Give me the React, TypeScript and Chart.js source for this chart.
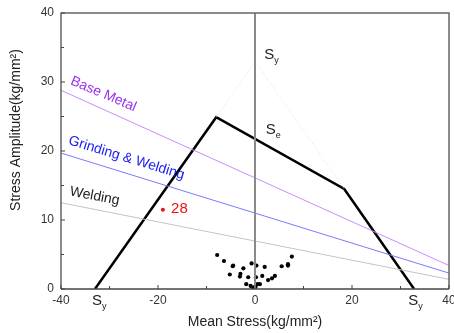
import React, { useEffect, useRef } from "react";
import { Chart, registerables } from "chart.js";

Chart.register(...registerables);

const xTicks = [-40, -20, 0, 20, 40];
const yTicks = [0, 10, 20, 30, 40];

// Goodman / yield envelope (thick black)
const envelopeX = [-33, -8, 18.4, 32.8];
const envelopeY = [0, 24.9, 14.5, 0];

// Yield triangle (dotted)
const yieldX = [-8, 0, 18.4];
const yieldY = [24.9, 33, 14.5];

// Fatigue lines
const baseMetalX = [-40, 40];
const baseMetalY = [28.8, 3.4];
const grindingX = [-40, 40];
const grindingY = [19.7, 2.3];
const weldingX = [-40, 40];
const weldingY = [12.5, 1.4];

// Measured points
const pointsX = [-7.8, -6.4, -4.5, -4.6, -2.4, -0.7, 0.3, 2.0, 5.5, 6.8, 6.8, 7.6, -5.2, -3.1, -3.0, -1.4, 0.2, 1.5, 2.7, 3.5, 4.1, -1.8, -0.9, -0.2, 0.5, 1.0, -0.4, 0.1];
const pointsY = [4.93, 4.06, 3.4, 3.3, 3.0, 3.7, 3.4, 3.2, 3.3, 3.4, 3.6, 4.7, 2.1, 1.8, 2.2, 1.7, 1.7, 1.9, 1.3, 1.55, 1.9, 0.7, 0.45, 0.25, 0.7, 0.7, 0.05, 0.3];

const redX = [-19];
const redY = [11.5];

const zeroX = [0, 0];
const zeroY = [0, 40];

const zip = (xs: number[], ys: number[]) => xs.map((x, i) => ({ x, y: ys[i] }));

const FONT = "'Liberation Sans', Arial, sans-serif";

const decorPlugin = {
  id: "decor",
  afterDraw(chart: any) {
    const { ctx, chartArea: a, scales } = chart;
    const xs = scales.x;
    const ys = scales.y;
    ctx.save();
    // frame
    ctx.strokeStyle = "#666";
    ctx.lineWidth = 1.5;
    ctx.beginPath();
    ctx.moveTo(a.left, a.bottom);
    ctx.lineTo(a.left, a.top);
    ctx.lineTo(a.right, a.top);
    ctx.lineTo(a.right, a.bottom);
    ctx.stroke();
    ctx.strokeStyle = "#444";
    ctx.beginPath();
    ctx.moveTo(a.left, a.bottom);
    ctx.lineTo(a.right, a.bottom);
    ctx.stroke();
    // ticks (inward)
    ctx.lineWidth = 1;
    ctx.strokeStyle = "#444";
    for (let v = -40; v <= 40; v += 10) {
      const px = xs.getPixelForValue(v);
      const len = v % 20 === 0 ? 4 : 3;
      ctx.beginPath();
      ctx.moveTo(px, a.bottom);
      ctx.lineTo(px, a.bottom - len);
      ctx.stroke();
    }
    for (let v = 0; v <= 40; v += 5) {
      const py = ys.getPixelForValue(v);
      const len = v % 10 === 0 ? 4 : 3;
      ctx.beginPath();
      ctx.moveTo(a.left, py);
      ctx.lineTo(a.left + len, py);
      ctx.stroke();
    }

    // axis titles
    ctx.fillStyle = "#222";
    ctx.font = `14px ${FONT}`;
    ctx.textAlign = "center";
    ctx.textBaseline = "middle";
    ctx.fillText("Mean Stress(kg/mm²)", (a.left + a.right) / 2, 322);
    ctx.save();
    ctx.translate(16, 130);
    ctx.rotate(-Math.PI / 2);
    ctx.fillText("Stress Amplitude(kg/mm²)", 0, 0);
    ctx.restore();

    // S labels with subscript
    const sLabel = (x: number, y: number, sub: string) => {
      ctx.textAlign = "left";
      ctx.textBaseline = "alphabetic";
      ctx.fillStyle = "#222";
      ctx.font = `15px ${FONT}`;
      ctx.fillText("S", x, y);
      const w = ctx.measureText("S").width;
      ctx.font = `9px ${FONT}`;
      ctx.fillText(sub, x + w, y + 4);
    };
    sLabel(xs.getPixelForValue(-33.6), a.bottom + 16, "y");
    sLabel(xs.getPixelForValue(31.6), a.bottom + 16, "y");
    sLabel(xs.getPixelForValue(1.9), ys.getPixelForValue(33.4), "y");
    sLabel(xs.getPixelForValue(2.2), ys.getPixelForValue(22.5), "e");

    // rotated line labels
    const rotLabel = (text: string, x: number, y: number, angDeg: number, color: string) => {
      ctx.save();
      ctx.translate(x, y);
      ctx.rotate((angDeg * Math.PI) / 180);
      ctx.font = `14px ${FONT}`;
      ctx.fillStyle = color;
      ctx.textAlign = "left";
      ctx.textBaseline = "alphabetic";
      ctx.fillText(text, 0, 0);
      ctx.restore();
    };
    rotLabel("Base Metal", xs.getPixelForValue(-38.2), ys.getPixelForValue(29.7), 23, "#9933ee");
    rotLabel("Grinding & Welding", xs.getPixelForValue(-38.6), ys.getPixelForValue(21.0), 17, "#1a1aee");
    rotLabel("Welding", xs.getPixelForValue(-38.3), ys.getPixelForValue(13.6), 11, "#222");

    // red label
    ctx.font = `15px ${FONT}`;
    ctx.fillStyle = "#ee1111";
    ctx.textAlign = "left";
    ctx.textBaseline = "alphabetic";
    ctx.fillText("28", xs.getPixelForValue(-17.3), ys.getPixelForValue(11.0));
    ctx.restore();
  },
};

export default function App() {
  const ref = useRef<HTMLCanvasElement | null>(null);
  useEffect(() => {
    document.body.style.margin = "0";
    const chart = new Chart(ref.current as HTMLCanvasElement, {
      type: "scatter",
      data: {
        datasets: [
          {
            data: zip(zeroX, zeroY),
            showLine: true,
            borderColor: "#8a8a8a",
            borderWidth: 2,
            pointRadius: 0,
          },
          {
            data: zip(weldingX, weldingY),
            showLine: true,
            borderColor: "#c4c4c4",
            borderWidth: 1,
            pointRadius: 0,
          },
          {
            data: zip(grindingX, grindingY),
            showLine: true,
            borderColor: "#7a7aff",
            borderWidth: 1,
            pointRadius: 0,
          },
          {
            data: zip(baseMetalX, baseMetalY),
            showLine: true,
            borderColor: "#c98cff",
            borderWidth: 1,
            pointRadius: 0,
          },
          {
            data: zip(yieldX, yieldY),
            showLine: true,
            borderColor: "#e0e0e0",
            borderWidth: 1,
            borderDash: [1, 2],
            pointRadius: 0,
          },
          {
            data: zip(envelopeX, envelopeY),
            showLine: true,
            borderColor: "#000",
            borderWidth: 2.5,
            pointRadius: 0,
            borderJoinStyle: "miter",
          },
          {
            data: zip(pointsX, pointsY),
            backgroundColor: "#000",
            borderColor: "#000",
            pointRadius: 2.1,
            borderWidth: 0,
          },
          {
            data: zip(redX, redY),
            backgroundColor: "#ee1111",
            borderColor: "#ee1111",
            pointRadius: 2,
            borderWidth: 0,
          },
        ],
      },
      options: {
        responsive: false,
        animation: false,
        devicePixelRatio: 1,
        layout: { padding: { top: 13, right: 5, left: 0, bottom: 0 } },
        plugins: { legend: { display: false }, tooltip: { enabled: false } },
        scales: {
          x: {
            type: "linear",
            min: -40,
            max: 40,
            afterBuildTicks: (s: any) => {
              s.ticks = xTicks.map((v) => ({ value: v }));
            },
            afterFit: (s: any) => {
              s.height = 44;
              s.paddingLeft = 0;
              s.paddingRight = 0;
            },
            grid: { display: false, drawTicks: false, tickLength: 0 },
            border: { display: false },
            ticks: {
              color: "#333",
              font: { family: FONT, size: 12 },
              padding: 4,
              maxRotation: 0,
            },
          },
          y: {
            type: "linear",
            min: 0,
            max: 40,
            afterBuildTicks: (s: any) => {
              s.ticks = yTicks.map((v) => ({ value: v }));
            },
            afterFit: (s: any) => {
              s.width = 61;
              s.paddingTop = 0;
              s.paddingBottom = 0;
            },
            grid: { display: false, drawTicks: false, tickLength: 0 },
            border: { display: false },
            ticks: {
              color: "#333",
              font: { family: FONT, size: 12 },
              padding: 7,
            },
          },
        },
      },
      plugins: [decorPlugin],
    } as any);
    return () => chart.destroy();
  }, []);
  return (
    <div style={{ position: "fixed", left: 0, top: 0, width: 454, height: 333, background: "#fff" }}>
      <canvas ref={ref} width={454} height={333} />
    </div>
  );
}
